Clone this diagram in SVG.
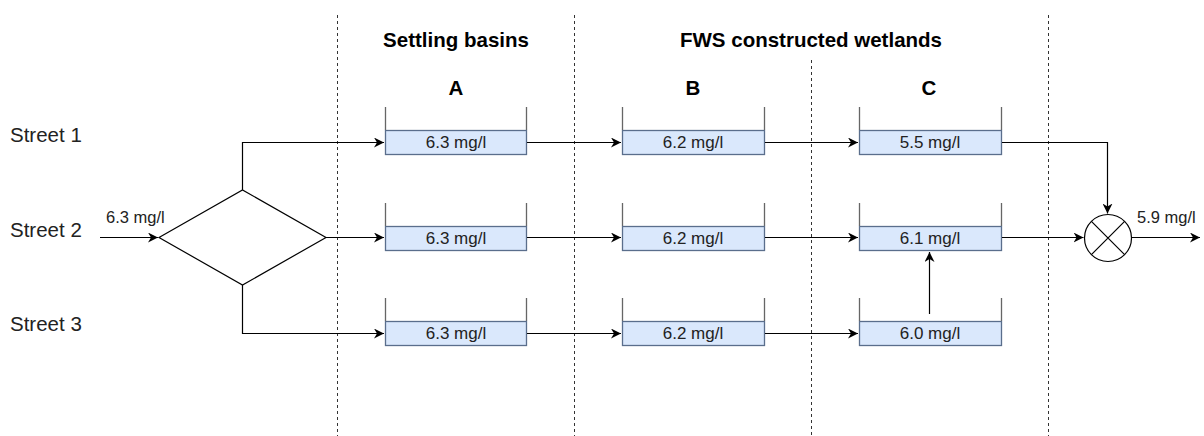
<svg xmlns="http://www.w3.org/2000/svg" width="1204" height="436" viewBox="0 0 1204 436">
<defs>
<marker id="arr" viewBox="0 0 10 10" refX="10" refY="5" markerWidth="10" markerHeight="10" markerUnits="userSpaceOnUse" orient="auto">
<path d="M0,0 L10,5 L0,10 L3,5 Z" fill="#000"/>
</marker>
<style>
text{font-family:"Liberation Sans",Arial,sans-serif;fill:#000}
.hdr{font-size:20.5px;font-weight:bold;text-anchor:middle}
.lbl{font-size:20.5px;fill:#222}
.tv{font-size:17px;text-anchor:middle;fill:#222}
.sm{font-size:16.5px;fill:#222}
.dash{stroke:#333;stroke-width:1;stroke-dasharray:3 3;fill:none}
.tank{fill:#dae8fc;stroke:#5a6e8c;stroke-width:1.3}
.wall{stroke:#666;stroke-width:1.3;fill:none}
.con{stroke:#000;stroke-width:1.2;fill:none}
</style>
</defs>
<g id="dividers">
<line class="dash" x1="337.5" y1="15" x2="337.5" y2="436"/>
<line class="dash" x1="574.5" y1="15" x2="574.5" y2="436"/>
<line class="dash" x1="811.5" y1="60" x2="811.5" y2="436"/>
<line class="dash" x1="1048.5" y1="15" x2="1048.5" y2="436"/>
</g>
<g id="headers">
<text class="hdr" x="456" y="47">Settling basins</text>
<text class="hdr" x="811" y="47">FWS constructed wetlands</text>
<text class="hdr" x="456" y="95">A</text>
<text class="hdr" x="693" y="95">B</text>
<text class="hdr" x="929" y="95">C</text>
</g>
<g id="streets">
<text class="lbl" x="10" y="142">Street 1</text>
<text class="lbl" x="10" y="237">Street 2</text>
<text class="lbl" x="10" y="331">Street 3</text>
</g>
<g id="splitter">
<polygon points="159,237.5 242.5,190 326,237.5 242.5,285" fill="#fff" stroke="#000" stroke-width="1.2"/>
</g>
<g id="tankA1"><path class="wall" d="M385.5,107 V130 M526.5,107 V130"/><rect class="tank" x="385.5" y="130.5" width="141" height="24"/><text class="tv" x="456" y="148">6.3 mg/l</text></g>
<g id="tankB1"><path class="wall" d="M622.5,107 V130 M764.5,107 V130"/><rect class="tank" x="622.5" y="130.5" width="142" height="24"/><text class="tv" x="693" y="148">6.2 mg/l</text></g>
<g id="tankC1"><path class="wall" d="M859.5,107 V130 M1001.5,107 V130"/><rect class="tank" x="859.5" y="130.5" width="142" height="24"/><text class="tv" x="930" y="148">5.5 mg/l</text></g>
<g id="tankA2"><path class="wall" d="M385.5,203 V226 M526.5,203 V226"/><rect class="tank" x="385.5" y="226.5" width="141" height="24"/><text class="tv" x="456" y="244">6.3 mg/l</text></g>
<g id="tankB2"><path class="wall" d="M622.5,203 V226 M764.5,203 V226"/><rect class="tank" x="622.5" y="226.5" width="142" height="24"/><text class="tv" x="693" y="244">6.2 mg/l</text></g>
<g id="tankC2"><path class="wall" d="M859.5,203 V226 M1001.5,203 V226"/><rect class="tank" x="859.5" y="226.5" width="142" height="24"/><text class="tv" x="930" y="244">6.1 mg/l</text></g>
<g id="tankA3"><path class="wall" d="M385.5,298 V321 M526.5,298 V321"/><rect class="tank" x="385.5" y="321.5" width="141" height="24"/><text class="tv" x="456" y="339">6.3 mg/l</text></g>
<g id="tankB3"><path class="wall" d="M622.5,298 V321 M764.5,298 V321"/><rect class="tank" x="622.5" y="321.5" width="142" height="24"/><text class="tv" x="693" y="339">6.2 mg/l</text></g>
<g id="tankC3"><path class="wall" d="M859.5,298 V321 M1001.5,298 V321"/><rect class="tank" x="859.5" y="321.5" width="142" height="24"/><text class="tv" x="930" y="339">6.0 mg/l</text></g>
<g id="mixer">
<circle cx="1108" cy="238" r="23.5" fill="#fff" stroke="#000" stroke-width="1.2"/>
<path d="M1091.4,221.4 L1124.6,254.6 M1124.6,221.4 L1091.4,254.6" stroke="#000" stroke-width="1.2"/>
</g>
<g id="connectors">
<path class="con" d="M100,237.5 H158" marker-end="url(#arr)"/>
<path class="con" d="M242.5,190 V142.5 H384" marker-end="url(#arr)"/>
<path class="con" d="M326,237.5 H384" marker-end="url(#arr)"/>
<path class="con" d="M242.5,285 V333.5 H384" marker-end="url(#arr)"/>
<path class="con" d="M527,142.5 H621" marker-end="url(#arr)"/>
<path class="con" d="M527,237.5 H621" marker-end="url(#arr)"/>
<path class="con" d="M527,333.5 H621" marker-end="url(#arr)"/>
<path class="con" d="M765,142.5 H858" marker-end="url(#arr)"/>
<path class="con" d="M765,237.5 H858" marker-end="url(#arr)"/>
<path class="con" d="M765,333.5 H858" marker-end="url(#arr)"/>
<path class="con" d="M929.5,314 V252" marker-end="url(#arr)"/>
<path class="con" d="M1002,142.5 H1107.5 V213.5" marker-end="url(#arr)"/>
<path class="con" d="M1002,237.5 H1083.5" marker-end="url(#arr)"/>
<path class="con" d="M1131.5,237.5 H1200" marker-end="url(#arr)"/>
</g>
<g id="flowlabels">
<text class="sm" x="106" y="223">6.3 mg/l</text>
<text class="sm" x="1137" y="223">5.9 mg/l</text>
</g>
</svg>
